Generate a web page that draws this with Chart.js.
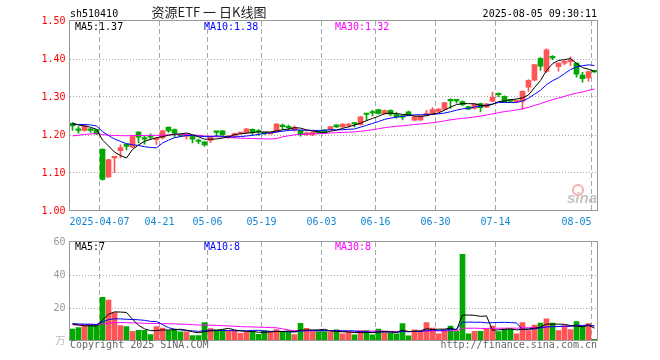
<!DOCTYPE html>
<html>
<head>
<meta charset="utf-8">
<script src="https://cdn.jsdelivr.net/npm/chart.js@4.4.1/dist/chart.umd.min.js"></script>
<style>
  body { margin: 0; background: #fff; }
  #wrap { position: relative; width: 660px; height: 360px; }
  canvas { position: absolute; left: 0; }
  #kline { top: 0; }
  #volume { top: 232px; }
</style>
</head>
<body>
<div id="wrap">
  <canvas id="kline" width="660" height="232"></canvas>
  <canvas id="volume" width="660" height="128"></canvas>
</div>
<script>
const year = '2025';
const dates = [
  '03-28','03-31','04-01','04-02','04-03','04-07','04-08','04-09','04-10','04-11',
  '04-14','04-15','04-16','04-17','04-18','04-21','04-22','04-23','04-24','04-25',
  '04-28','04-29','04-30','05-06','05-07','05-08','05-09','05-12','05-13','05-14',
  '05-15','05-16','05-19','05-20','05-21','05-22','05-23','05-26','05-27','05-28',
  '05-29','05-30','06-03','06-04','06-05','06-06','06-09','06-10','06-11','06-12',
  '06-13','06-16','06-17','06-18','06-19','06-20','06-23','06-24','06-25','06-26',
  '06-27','06-30','07-01','07-02','07-03','07-04','07-07','07-08','07-09','07-10',
  '07-11','07-14','07-15','07-16','07-17','07-18','07-21','07-22','07-23','07-24',
  '07-25','07-28','07-29','07-30','07-31','08-01','08-04','08-05'
];
const open = [
  1.231,1.215,1.212,1.214,1.214, 1.163,1.090,1.140,1.159,1.176,
  1.168,1.208,1.190,1.195,1.188, 1.192,1.221,1.214,1.201,1.196,
  1.196,1.184,1.182,1.186,1.208, 1.211,1.193,1.197,1.204,1.206,
  1.215,1.209,1.205,1.203,1.208, 1.224,1.221,1.212,1.212,1.201,
  1.200,1.207,1.213,1.214,1.227, 1.221,1.225,1.230,1.227,1.257,
  1.259,1.267,1.257,1.265,1.254, 1.248,1.261,1.239,1.240,1.253,
  1.255,1.262,1.267,1.294,1.291, 1.288,1.275,1.270,1.283,1.273,
  1.289,1.307,1.302,1.290,1.287, 1.289,1.326,1.344,1.402,1.367,
  1.405,1.380,1.389,1.393,1.389, 1.358,1.350,1.367
];
const high = [
  1.233,1.222,1.226,1.217,1.215, 1.163,1.136,1.142,1.174,1.176,
  1.197,1.209,1.198,1.203,1.194, 1.213,1.221,1.216,1.203,1.203,
  1.198,1.189,1.183,1.197,1.208, 1.212,1.199,1.205,1.207,1.217,
  1.216,1.214,1.206,1.207,1.231, 1.229,1.226,1.224,1.213,1.208,
  1.209,1.210,1.214,1.223,1.227, 1.230,1.230,1.233,1.249,1.257,
  1.265,1.268,1.266,1.266,1.259, 1.252,1.263,1.249,1.251,1.265,
  1.272,1.269,1.286,1.295,1.294, 1.290,1.276,1.283,1.284,1.283,
  1.313,1.311,1.303,1.292,1.292, 1.316,1.346,1.386,1.404,1.427,
  1.409,1.390,1.396,1.406,1.390, 1.365,1.368,1.368
];
const low = [
  1.212,1.205,1.210,1.207,1.201, 1.081,1.088,1.101,1.140,1.161,
  1.167,1.179,1.176,1.188,1.175, 1.190,1.207,1.194,1.196,1.189,
  1.179,1.177,1.170,1.180,1.195, 1.199,1.191,1.193,1.202,1.205,
  1.200,1.199,1.201,1.202,1.207, 1.214,1.212,1.210,1.197,1.199,
  1.198,1.203,1.206,1.213,1.219, 1.220,1.220,1.221,1.226,1.238,
  1.250,1.255,1.255,1.250,1.244, 1.240,1.250,1.237,1.238,1.250,
  1.254,1.260,1.266,1.270,1.284, 1.277,1.267,1.268,1.261,1.272,
  1.288,1.300,1.286,1.286,1.285, 1.267,1.315,1.342,1.370,1.365,
  1.398,1.368,1.385,1.383,1.352, 1.339,1.341,1.365
];
const close = [
  1.224,1.212,1.224,1.212,1.203, 1.083,1.135,1.142,1.167,1.170,
  1.196,1.194,1.189,1.194,1.191, 1.211,1.211,1.205,1.197,1.202,
  1.189,1.183,1.174,1.196,1.207, 1.200,1.198,1.204,1.206,1.216,
  1.207,1.208,1.203,1.206,1.229, 1.222,1.219,1.220,1.201,1.206,
  1.208,1.206,1.208,1.222,1.221, 1.229,1.229,1.229,1.248,1.254,
  1.258,1.257,1.264,1.255,1.248, 1.247,1.252,1.248,1.250,1.257,
  1.267,1.268,1.285,1.290,1.290, 1.280,1.268,1.282,1.272,1.282,
  1.299,1.306,1.288,1.289,1.291, 1.315,1.344,1.385,1.381,1.424,
  1.403,1.389,1.394,1.396,1.360, 1.348,1.367,1.366
];
// 万手
const volume = [
  7.3,8.1,9.9,9.9,9.9, 26.4,24.8,17.3,9.3,8.7,
  5.9,6.5,6.5,3.9,8.7, 7.9,6.3,7.3,5.5,5.5,
  3.3,3.3,11.1,7.5,6.7, 6.7,6.3,6.3,4.7,5.7,
  5.7,4.1,6.3,5.9,6.9, 5.7,5.5,3.9,10.7,7.7,
  5.7,5.7,5.7,5.5,6.7, 4.3,5.3,3.7,6.3,6.3,
  3.7,7.3,5.7,4.9,4.3, 10.5,3.1,6.7,5.9,11.1,
  7.9,4.3,6.7,9.1,5.9, 52.6,4.3,5.9,5.9,7.3,
  9.1,5.7,7.3,7.3,4.3, 11.2,6.3,9.7,10.8,13.5,
  10.8,6.3,9.3,6.9,11.7, 8.9,10.5,1.0
];
// days before the first visible one, only used to seed the moving averages
const earlierClose = [
  1.160,1.165,1.170,1.168,1.172,1.175,1.170,1.178,1.182,1.180,
  1.185,1.188,1.186,1.190,1.192,1.189,1.195,1.198,1.200,1.207,
  1.215,1.222,1.226,1.230,1.232,1.236,1.235,1.230,1.230
];
const earlierVolume = [
  9,10,8,11,9,10,9,8,10,9,11,9,10,8,9,10,9,10,9,10,
  10,11,10,12,11,11,12,10,11
];
const gridDates = ['04-07','04-21','05-06','05-19','06-03','06-16','06-30','07-14','08-05'];
const priceLegend = ['MA5:1.37', 'MA10:1.38', 'MA30:1.32'];
const volumeLegend = ['MA5:7', 'MA10:8', 'MA30:8'];

const RED = '#ff5555';
const GREEN = '#00a800';
const MA_COLORS = ['#000000', '#0000ff', '#ff00ff'];
const GRID = '#aaaaaa';
const MONO = '"DejaVu Sans Mono", "Liberation Mono", monospace';

function movingAvg(values, before, n) {
  const all = before.concat(values);
  return values.map((v, i) => {
    const end = before.length + i + 1;
    let sum = 0;
    for (let k = end - n; k < end; k++) sum += all[k];
    return sum / n;
  });
}

const gridIdx = gridDates.map(d => dates.indexOf(d));
const isUp = i => close[i] >= open[i];
const candleColor = c => isUp(c.dataIndex) ? RED : GREEN;

function maLine(data, color) {
  return { type: 'line', data: data, borderColor: color, borderWidth: 1,
           pointRadius: 0, tension: 0, order: 0 };
}

const xScale = (height) => ({
  type: 'category',
  offset: true,
  grid: { offset: true, drawTicks: false,
          color: c => gridIdx.includes(c.index) ? GRID : 'transparent' },
  border: { display: false, dash: [5, 3] },
  ticks: { display: false },
  afterFit: s => { s.height = height; }
});

const framePlugin = {
  id: 'frame',
  afterDatasetsDraw(chart) {
    const { ctx, chartArea: a } = chart;
    ctx.save();
    ctx.strokeStyle = '#999';
    ctx.lineWidth = 1;
    ctx.strokeRect(a.left, a.top - 0.5, a.right - a.left, a.bottom - a.top);
    ctx.restore();
  }
};

function drawLegend(ctx, items, y) {
  ctx.font = '10px ' + MONO;
  ctx.textAlign = 'left';
  ctx.textBaseline = 'alphabetic';
  [75, 204, 335].forEach((x, k) => {
    ctx.fillStyle = MA_COLORS[k];
    ctx.fillText(items[k], x, y);
  });
}

const klineText = {
  id: 'klineText',
  afterDraw(chart) {
    const ctx = chart.ctx;
    const xs = chart.scales.x;
    const half = (xs.right - xs.left) / dates.length / 2;
    ctx.save();
    ctx.fillStyle = '#000';
    ctx.font = '10px ' + MONO;
    ctx.textBaseline = 'alphabetic';
    ctx.textAlign = 'left';
    ctx.fillText('sh510410', 70, 17);
    ctx.textAlign = 'right';
    ctx.fillText('2025-08-05 09:30:11', 597, 17);
    ctx.textAlign = 'center';
    ctx.font = '13px "Noto Sans CJK SC", sans-serif';
    ctx.fillStyle = '#222';
    ctx.fillText('资源ETF 一 日K线图', 209, 17);

    drawLegend(ctx, priceLegend, 30);

    ctx.font = '10px ' + MONO;
    ctx.fillStyle = '#1287d6';
    gridIdx.forEach((idx, k) => {
      const x = xs.getPixelForValue(idx) - half;
      const last = k === gridIdx.length - 1;
      ctx.textAlign = last ? 'right' : 'center';
      ctx.fillText(k === 0 ? year + '-' + dates[idx] : dates[idx], x, 225);
    });

    ctx.fillStyle = '#c4c4c4';
    ctx.font = 'italic bold 15px "Liberation Sans", sans-serif';
    ctx.textAlign = 'right';
    ctx.fillText('sina', 597, 203);
    ctx.strokeStyle = '#f0b0b0';
    ctx.lineWidth = 2;
    ctx.beginPath();
    ctx.arc(578, 190, 5, 0, Math.PI * 2);
    ctx.stroke();
    ctx.restore();
  }
};

const volumeText = {
  id: 'volumeText',
  afterDraw(chart) {
    const ctx = chart.ctx;
    ctx.save();
    drawLegend(ctx, volumeLegend, 18);
    ctx.font = '10px ' + MONO;
    ctx.fillStyle = '#666';
    ctx.textAlign = 'left';
    ctx.fillText('Copyright 2025 SINA.COM', 70, 116);
    ctx.textAlign = 'right';
    ctx.fillText('http://finance.sina.com.cn', 597, 116);
    ctx.restore();
  }
};

Chart.defaults.font.family = MONO;
Chart.defaults.font.size = 10;

new Chart(document.getElementById('kline'), {
  type: 'bar',
  data: {
    labels: dates,
    datasets: [
      maLine(movingAvg(close, earlierClose, 5), MA_COLORS[0]),
      maLine(movingAvg(close, earlierClose, 10), MA_COLORS[1]),
      maLine(movingAvg(close, earlierClose, 30), MA_COLORS[2]),
      { data: dates.map((d, i) => [open[i], close[i]]), backgroundColor: candleColor,
        barThickness: 5, minBarLength: 1.5, grouped: false, order: 1 },
      { data: dates.map((d, i) => [low[i], high[i]]), backgroundColor: candleColor,
        barThickness: 1, grouped: false, order: 2 }
    ]
  },
  options: {
    responsive: false,
    animation: false,
    devicePixelRatio: 1,
    layout: { padding: { left: 0, right: 62.5, top: 21, bottom: 0 } },
    plugins: { legend: { display: false }, tooltip: { enabled: false } },
    scales: {
      x: xScale(21),
      y: {
        min: 1.0, max: 1.5,
        afterFit: s => { s.width = 69.5; },
        ticks: { stepSize: 0.1, padding: 4, color: '#ff0000',
                 callback: v => v.toFixed(2) },
        grid: { drawTicks: false,
                color: c => (c.tick && c.tick.value > 1.001 && c.tick.value < 1.499) ? GRID : 'transparent' },
        border: { display: false, dash: [1, 2] }
      }
    }
  },
  plugins: [framePlugin, klineText]
});

new Chart(document.getElementById('volume'), {
  type: 'bar',
  data: {
    labels: dates,
    datasets: [
      maLine(movingAvg(volume, earlierVolume, 5), MA_COLORS[0]),
      maLine(movingAvg(volume, earlierVolume, 10), MA_COLORS[1]),
      maLine(movingAvg(volume, earlierVolume, 30), MA_COLORS[2]),
      { data: volume, backgroundColor: candleColor, barThickness: 5, order: 1 }
    ]
  },
  options: {
    responsive: false,
    animation: false,
    devicePixelRatio: 1,
    layout: { padding: { left: 0, right: 62.5, top: 9, bottom: 0 } },
    plugins: { legend: { display: false }, tooltip: { enabled: false } },
    scales: {
      x: xScale(19),
      y: {
        min: 0, max: 60,
        afterFit: s => { s.width = 69.5; },
        ticks: { stepSize: 20, padding: 4,
                 color: c => c.tick && c.tick.value === 0 ? '#bbbbbb' : '#999999',
                 font: { family: MONO + ', "Noto Sans CJK SC"', size: 10 },
                 callback: v => v === 0 ? '万' : String(v) },
        grid: { drawTicks: false,
                color: c => (c.tick && c.tick.value > 0 && c.tick.value < 60) ? GRID : 'transparent' },
        border: { display: false, dash: [1, 2] }
      }
    }
  },
  plugins: [framePlugin, volumeText]
});
</script>
</body>
</html>
